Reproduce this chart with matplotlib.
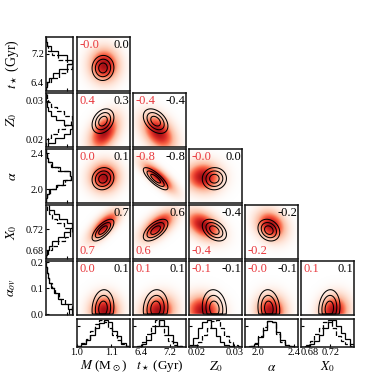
import numpy as np
import matplotlib
matplotlib.use('Agg')
import matplotlib.pyplot as plt
import matplotlib.colors as mcolors

plt.rcParams['font.family'] = ['Liberation Serif', 'DejaVu Serif']
plt.rcParams['mathtext.fontset'] = 'stix'

# ---------------- data ----------------
param_labels = [r'$M$ (M$_\odot$)', r'$t_\star$ (Gyr)', r'$Z_0$', r'$\alpha$', r'$X_0$', r'$\alpha_{ov}$']
red_mean = [1.080, 6.88, 0.0218, 2.14, 0.727, 0.012]
red_std = [0.025, 0.27, 0.0027, 0.095, 0.016, 0.035]
black_mean = [1.076, 6.80, 0.0247, 2.12, 0.718, 0.022]
black_std = [0.022, 0.24, 0.0022, 0.085, 0.014, 0.050]
# lower triangle correlations: row k -> parameter k+1 against parameters 0..k
red_corr = [[-0.02],
            [0.4, -0.4],
            [0.02, -0.8, -0.02],
            [0.7, 0.6, -0.4, -0.2],
            [0.02, 0.1, -0.1, -0.02, 0.1]]
black_corr = [[0.03],
              [0.3, -0.4],
              [0.1, -0.8, 0.02],
              [0.7, 0.6, -0.4, -0.2],
              [0.1, 0.1, -0.1, -0.1, 0.1]]
tick_values = [[1.0, 1.1], [6.4, 7.2], [0.02, 0.03], [2.0, 2.4], [0.68, 0.72], [0.0, 0.1, 0.2]]
tick_labels = [['1.0', '1.1'], ['6.4', '7.2'], ['0.02', '0.03'], ['2.0', '2.4'], ['0.68', '0.72'], ['0.0', '0.1', '0.2']]
hist_range = [(1.0, 1.155), (6.16, 7.66), (0.018, 0.032), (1.85, 2.45), (0.664, 0.765), (0.0, 0.2)]
hist_solid = [
    [0.05, 0.1, 0.25, 0.45, 0.7, 0.9, 1.0, 0.95, 0.6, 0.4, 0.15, 0.05],
    [0, 0.03, 0.12, 0.28, 0.52, 0.8, 1.0, 0.8, 0.45, 0.18, 0.05, 0.01],
    [0.08, 0.35, 0.7, 0.95, 1.0, 0.7, 0.4, 0.18, 0.07, 0.03, 0.01, 0],
    [0, 0.03, 0.12, 0.38, 0.65, 0.97, 0.95, 0.55, 0.25, 0.08, 0.03, 0.01],
    [0, 0.03, 0.1, 0.22, 0.45, 0.7, 0.92, 1.0, 0.8, 0.52, 0.3, 0.12],
    [1.0, 0.85, 0.6, 0.45, 0.3, 0.2, 0.12, 0.07, 0.03, 0.01],
]
hist_dashed = [
    [0.05, 0.15, 0.3, 0.6, 0.85, 1.0, 0.95, 0.7, 0.45, 0.25, 0.1, 0.03],
    [0, 0.05, 0.2, 0.5, 0.8, 1.0, 0.8, 0.45, 0.22, 0.06, 0.02, 0],
    [0, 0.07, 0.2, 0.45, 0.72, 0.98, 1.0, 0.7, 0.42, 0.2, 0.08, 0.03],
    [0, 0.03, 0.16, 0.42, 0.75, 0.98, 0.95, 0.48, 0.2, 0.07, 0.02, 0],
    [0.01, 0.07, 0.22, 0.48, 0.72, 0.92, 1.0, 0.7, 0.42, 0.22, 0.1, 0.03],
    [0.9, 1.0, 0.75, 0.5, 0.35, 0.22, 0.12, 0.06, 0.03, 0.01],
]

# ---------------- layout ----------------
W = H = 374
lims = [(1.0, 1.155), (6.16, 7.66), (0.018, 0.032), (1.85, 2.45), (0.664, 0.765), (-0.003, 0.205)]
col_x = [77, 133, 189, 245, 301]
row_y = [37, 93, 149, 205, 261]
PW = 54
RED_TXT = '#e8383d'
SPINE_LW = 1.1
cmap = mcolors.LinearSegmentedColormap.from_list(
    'wr', ['#ffffff', '#fee0d2', '#fcbba1', '#fb6a4a', '#de2d26', '#a50f15'])

fig = plt.figure(figsize=(W / 100, H / 100), dpi=100)


def add_ax(x0, y0, w, h):
    return fig.add_axes([x0 / W, 1 - (y0 + h) / H, w / W, h / H])


def style(ax):
    for s in ax.spines.values():
        s.set_linewidth(SPINE_LW)
        s.set_color('#111111')


def gauss2d(X, Y, mx, my, sx, sy, r, trunc_y=False):
    u = (X - mx) / sx
    v = (Y - my) / sy
    z = np.exp(-(u * u - 2 * r * u * v + v * v) / (2 * (1 - r * r)))
    if trunc_y:
        z = np.where(Y < 0, 0, z)
    return z


# main panels
for k in range(5):
    py = k + 1  # y parameter index
    for j in range(k + 1):
        px = j
        ax = add_ax(col_x[j], row_y[k], PW - 1, PW)
        style(ax)
        xl, yl = lims[px], lims[py]
        xs = np.linspace(xl[0], xl[1], 160)
        ys = np.linspace(yl[0], yl[1], 160)
        X, Y = np.meshgrid(xs, ys)
        trunc = (py == 5)
        Zr = gauss2d(X, Y, red_mean[px], red_mean[py], red_std[px], red_std[py], red_corr[k][j], trunc)
        Zb = gauss2d(X, Y, black_mean[px], black_mean[py], black_std[px], black_std[py], black_corr[k][j], trunc)
        ax.imshow(Zr, origin='lower', extent=[xl[0], xl[1], yl[0], yl[1]], aspect='auto',
                  cmap=cmap, norm=mcolors.PowerNorm(gamma=0.75, vmin=0, vmax=Zr.max()),
                  interpolation='bilinear')
        ax.contour(X, Y, Zb, levels=np.array([0.35, 0.6, 0.85]) * Zb.max(), colors='k', linewidths=0.75)
        ax.set_xlim(*xl)
        ax.set_ylim(*yl)
        ax.set_xticks([])
        ax.set_yticks([])
        rtxt = f'{red_corr[k][j]:.1f}'
        btxt = f'{black_corr[k][j]:.1f}'
        if py == 4:
            ax.text(0.04, 0.03, rtxt, color=RED_TXT, fontsize=9, ha='left', va='bottom', transform=ax.transAxes)
        else:
            ax.text(0.04, 0.97, rtxt, color=RED_TXT, fontsize=9, ha='left', va='top', transform=ax.transAxes)
        ax.text(0.99, 0.97, btxt, color='k', fontsize=9, ha='right', va='top', transform=ax.transAxes)

# left histograms (horizontal)
for k in range(5):
    p = k + 1
    ax = add_ax(46, row_y[k], 27, PW)
    style(ax)
    hr = hist_range[p]
    edges = np.linspace(hr[0], hr[1], len(hist_solid[p]) + 1)
    ax.stairs(hist_solid[p], edges, orientation='horizontal', color='k', lw=0.9, baseline=None)
    ax.stairs(hist_dashed[p], edges, orientation='horizontal', color='k', lw=0.9, ls='--', baseline=None)
    ax.set_ylim(*lims[p])
    ax.set_xlim(0, 1.05)
    ax.set_yticks(tick_values[p])
    ax.set_yticklabels(tick_labels[p])
    ax.set_xticks([0.82])
    ax.set_xticklabels([])
    ax.tick_params(direction='in', length=2, width=0.8, labelsize=7.5, pad=1.5)
    ax.text(-34 / 27, 0.5, param_labels[p], rotation=90, fontsize=10,
            ha='center', va='center', transform=ax.transAxes)

# bottom histograms
for j in range(5):
    ax = add_ax(col_x[j], 319, PW - 1, 28)
    style(ax)
    hr = hist_range[j]
    edges = np.linspace(hr[0], hr[1], len(hist_solid[j]) + 1)
    ax.stairs(hist_solid[j], edges, color='k', lw=0.9, baseline=None)
    ax.stairs(hist_dashed[j], edges, color='k', lw=0.9, ls='--', baseline=None)
    ax.set_xlim(*lims[j])
    ax.set_ylim(0, 1.05)
    ax.set_xticks(tick_values[j])
    ax.set_xticklabels(tick_labels[j])
    ax.set_yticks([0.8])
    ax.set_yticklabels([])
    ax.tick_params(direction='in', length=2, width=0.8, labelsize=7.5, pad=1)
    ax.text(0.5, -0.98, param_labels[j], fontsize=9.5, ha='center', va='bottom', transform=ax.transAxes)

fig.savefig('out.png', dpi=100)
